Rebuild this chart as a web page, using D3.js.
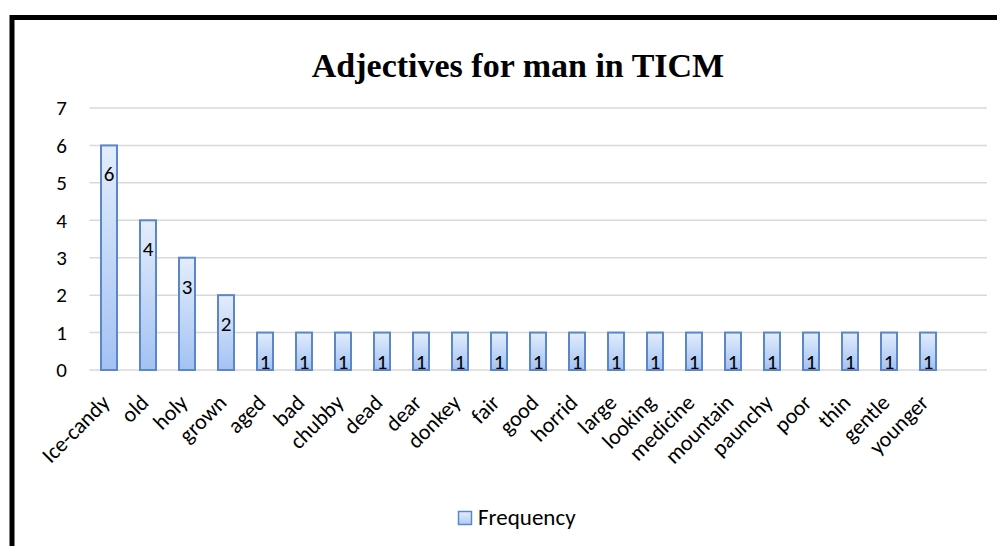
<!DOCTYPE html>
<html>
<head>
<meta charset="utf-8">
<script src="https://cdn.jsdelivr.net/npm/d3@7"></script>
<style>
  html, body { margin: 0; padding: 0; background: #fff; }
  svg { display: block; }
</style>
</head>
<body>
<svg id="chart" width="997" height="546"></svg>
<script>
// Adjective frequencies
const categories = ["Ice-candy", "old", "holy", "grown", "aged", "bad", "chubby", "dead", "dear",
  "donkey", "fair", "good", "horrid", "large", "looking", "medicine", "mountain", "paunchy",
  "poor", "thin", "gentle", "younger"];
const frequency = [6, 4, 3, 2, 1, 1, 1, 1, 1, 1, 1, 1, 1, 1, 1, 1, 1, 1, 1, 1, 1, 1];
const yTicks = [0, 1, 2, 3, 4, 5, 6, 7];
const seriesName = "Frequency";
const titleText = "Adjectives for man in TICM";

const sansFont = "Carlito, Lato, 'Liberation Sans', sans-serif";
const svg = d3.select("#chart");

// frame
svg.append("rect")
  .attr("x", 12).attr("y", 17.5)
  .attr("width", 1000).attr("height", 560)
  .attr("fill", "#fff")
  .attr("stroke", "#000").attr("stroke-width", 5);

svg.append("text")
  .attr("x", 518).attr("y", 77)
  .attr("text-anchor", "middle")
  .attr("font-family", "'Liberation Serif', 'DejaVu Serif', serif")
  .attr("font-weight", "bold")
  .attr("font-size", 34)
  .attr("fill", "#000")
  .text(titleText);

const plot = { left: 89.5, right: 987, top: 108, bottom: 370 };
const step = 39;

const x = d3.scaleBand()
  .domain(categories)
  .range([plot.left, plot.left + step * categories.length])
  .paddingInner(0.59)
  .paddingOuter(0.295);

const y = d3.scaleLinear().domain([0, 7]).range([plot.bottom, plot.top]);

// gridlines
svg.append("g")
  .selectAll("line")
  .data(yTicks)
  .join("line")
  .attr("x1", plot.left).attr("x2", plot.right)
  .attr("y1", d => y(d)).attr("y2", d => y(d))
  .attr("stroke", "#d9d9d9").attr("stroke-width", 1.5);

// y axis labels
const yAxis = d3.axisLeft(y).tickValues(yTicks).tickSize(0).tickPadding(0).tickFormat(d3.format("d"));
const yg = svg.append("g").attr("transform", "translate(67,0)").call(yAxis);
yg.select(".domain").remove();
yg.selectAll("text")
  .attr("font-family", sansFont).attr("font-size", 21).attr("fill", "#000");

// gradient fill for bars
const defs = svg.append("defs");
const grad = defs.append("linearGradient")
  .attr("id", "barFill").attr("x1", 0).attr("y1", 0).attr("x2", 0).attr("y2", 1);
grad.append("stop").attr("offset", "0%").attr("stop-color", "#e3edfc");
grad.append("stop").attr("offset", "100%").attr("stop-color", "#a3c2f3");

const legendGrad = defs.append("linearGradient")
  .attr("id", "legendFill").attr("x1", 0).attr("y1", 0).attr("x2", 0).attr("y2", 1);
legendGrad.append("stop").attr("offset", "0%").attr("stop-color", "#e3edfc");
legendGrad.append("stop").attr("offset", "100%").attr("stop-color", "#b0cbf5");

const data = categories.map((c, i) => ({ c, v: frequency[i] }));

svg.append("g")
  .selectAll("rect")
  .data(data)
  .join("rect")
  .attr("x", d => x(d.c))
  .attr("y", d => y(d.v))
  .attr("width", x.bandwidth())
  .attr("height", d => y(0) - y(d.v))
  .attr("fill", "url(#barFill)")
  .attr("stroke", "#5b87c6").attr("stroke-width", 2);

// value labels
svg.append("g")
  .selectAll("text")
  .data(data)
  .join("text")
  .attr("x", d => x(d.c) + x.bandwidth() / 2)
  .attr("y", d => y(d.v) + 36)
  .attr("text-anchor", "middle")
  .attr("font-family", sansFont).attr("font-size", 21).attr("fill", "#000")
  .text(d => d.v);

// category labels, rotated
svg.append("g")
  .selectAll("text")
  .data(categories)
  .join("text")
  .attr("transform", d => `translate(${x(d) + x.bandwidth() / 2 + 2},${plot.bottom + 34}) rotate(-45)`)
  .attr("text-anchor", "end")
  .attr("font-family", sansFont).attr("font-size", 22).attr("fill", "#000")
  .text(d => d);

// legend
svg.append("rect")
  .attr("x", 458.5).attr("y", 511.5).attr("width", 13).attr("height", 13)
  .attr("fill", "url(#legendFill)")
  .attr("stroke", "#5b87c6").attr("stroke-width", 1.5);
svg.append("text")
  .attr("x", 478).attr("y", 525)
  .attr("font-family", sansFont).attr("font-size", 23).attr("fill", "#000")
  .text(seriesName);
</script>
</body>
</html>
